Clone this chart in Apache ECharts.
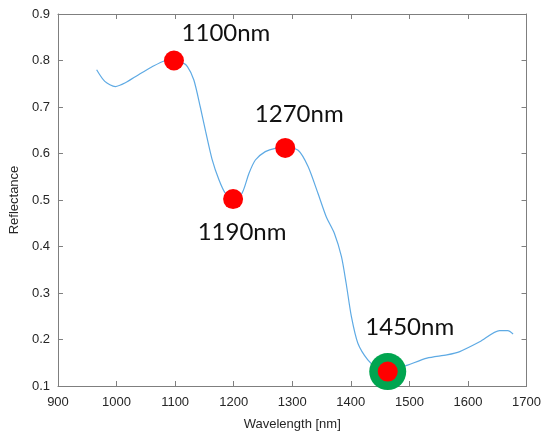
<!DOCTYPE html>
<html>
<head>
<meta charset="utf-8">
<script src="https://cdn.jsdelivr.net/npm/echarts@6/dist/echarts.min.js"></script>
<style>
html,body{margin:0;padding:0;background:#fff;}
#chart{width:544px;height:436px;}
</style>
</head>
<body>
<div id="chart"></div>
<script>
// Spectrum curve
const wavelengths = [966, 980, 998, 1015, 1037, 1060, 1082, 1098, 1110, 1121, 1132, 1143, 1152, 1163, 1175, 1186, 1199, 1214, 1226, 1237, 1254, 1271, 1288, 1310, 1327, 1344, 1358, 1372, 1384, 1392, 1401, 1412, 1429, 1445, 1463, 1480, 1497, 1530, 1564, 1586, 1620, 1654, 1668, 1677];
const reflectance = [0.780, 0.755, 0.744, 0.752, 0.769, 0.786, 0.799, 0.800, 0.797, 0.787, 0.758, 0.700, 0.648, 0.588, 0.543, 0.514, 0.502, 0.514, 0.557, 0.586, 0.604, 0.611, 0.612, 0.607, 0.572, 0.514, 0.464, 0.428, 0.378, 0.321, 0.249, 0.192, 0.156, 0.138, 0.131, 0.138, 0.145, 0.160, 0.167, 0.174, 0.195, 0.219, 0.219, 0.212];

// Highlighted wavelengths
const peakWavelengths = [1098, 1199, 1288, 1463];
const peakValues = [0.800, 0.502, 0.612, 0.131];
const peakLabels = ['1100nm', '1190nm', '1270nm', '1450nm'];
const peakOffsets = [[52, -27], [9, 33], [14, -34], [22, -44]];
const selectedIndex = 3;

// Axis ticks
const xMin = 900, xMax = 1700, xStep = 100;
const yMin = 0.1, yMax = 0.9, yStep = 0.1;

const axisColor = '#7f7f7f';
const tickFont = { color: '#262626', fontSize: 13, fontFamily: 'Liberation Sans, Arial, sans-serif' };

const chart = echarts.init(document.getElementById('chart'));
const frameAxis = (extra) => Object.assign({
  axisLine: { show: true, onZero: false, lineStyle: { color: axisColor, width: 1 } },
  axisTick: { show: true, inside: true, length: 5, lineStyle: { color: axisColor } },
  axisLabel: { show: false },
  splitLine: { show: false }
}, extra);

chart.setOption({
  animation: false,
  backgroundColor: '#ffffff',
  grid: { left: 54, top: 14, right: 17, bottom: 50, containLabel: false },
  xAxis: [
    frameAxis({
      type: 'value', position: 'bottom', min: xMin, max: xMax, interval: xStep,
      name: 'Wavelength [nm]', nameLocation: 'middle', nameGap: 32,
      nameTextStyle: { color: '#262626', fontSize: 13, fontFamily: 'Liberation Sans, Arial, sans-serif' },
      axisLabel: Object.assign({ show: true, margin: 10, formatter: v => String(v) }, tickFont)
    }),
    frameAxis({ type: 'value', position: 'top', min: xMin, max: xMax, interval: xStep })
  ],
  yAxis: [
    frameAxis({
      type: 'value', position: 'left', min: yMin, max: yMax, interval: yStep,
      name: 'Reflectance', nameLocation: 'middle', nameGap: 36, nameRotate: 90,
      nameTextStyle: { color: '#262626', fontSize: 13, fontFamily: 'Liberation Sans, Arial, sans-serif' },
      axisLabel: Object.assign({ show: true, margin: 8, formatter: v => v.toFixed(1) }, tickFont)
    }),
    frameAxis({ type: 'value', position: 'right', min: yMin, max: yMax, interval: yStep })
  ],
  series: [
    {
      type: 'line',
      data: wavelengths.map((w, i) => [w, reflectance[i]]),
      smooth: 0.25,
      showSymbol: false,
      lineStyle: { color: '#5eaae4', width: 1.2 },
      z: 2
    },
    {
      type: 'scatter',
      data: [[peakWavelengths[selectedIndex], peakValues[selectedIndex]]],
      symbolSize: 37,
      itemStyle: { color: '#00a550', opacity: 1 },
      z: 3
    },
    {
      type: 'scatter',
      data: peakWavelengths.map((w, i) => ({
        value: [w, peakValues[i]],
        label: {
          show: true, formatter: peakLabels[i], position: 'inside', offset: peakOffsets[i],
          color: '#111', fontSize: 24, fontFamily: 'Lato, Open Sans, sans-serif'
        }
      })),
      symbolSize: 20,
      itemStyle: { color: '#ff0000', opacity: 1 },
      z: 4
    }
  ]
});
</script>
</body>
</html>
